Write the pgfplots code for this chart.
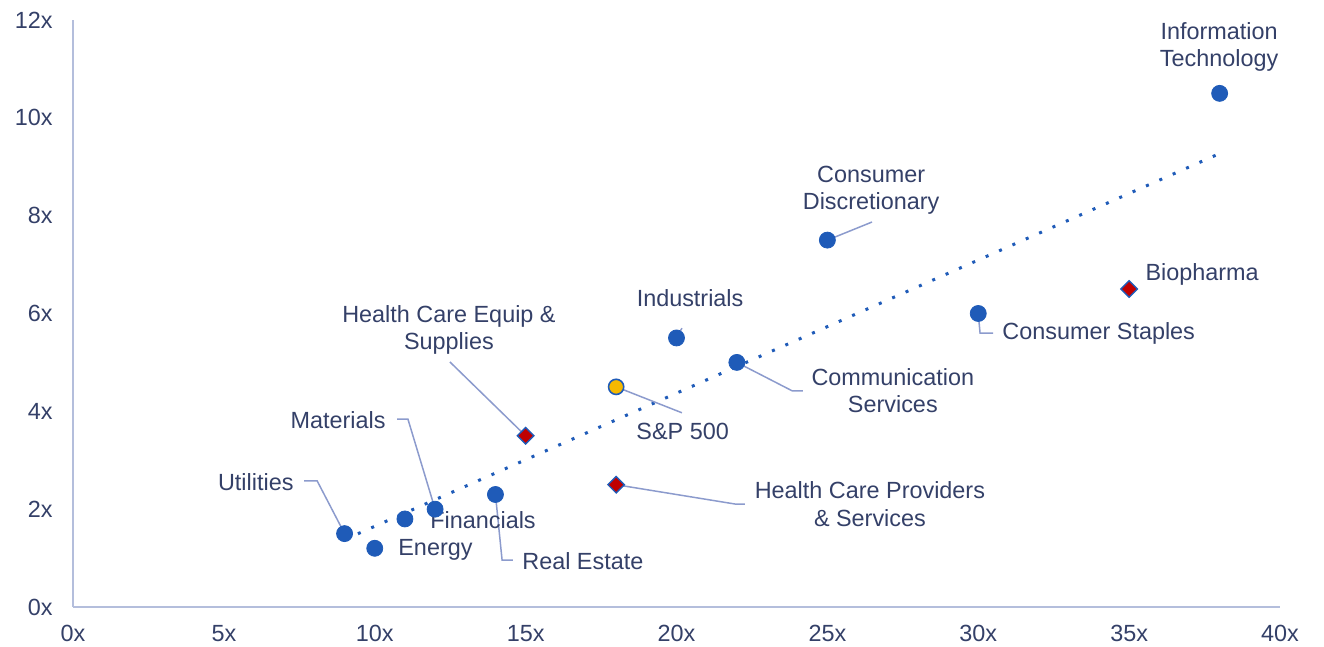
\documentclass[border=0pt]{standalone}
\usepackage{fontspec}
\setmainfont{Liberation Sans}
\usepackage{pgfplots}
\pgfplotsset{compat=1.18}

\definecolor{mkblue}{HTML}{1F5BB8}
\definecolor{leadcol}{HTML}{8C9BCD}
\definecolor{axiscol}{HTML}{B4BEDC}
\definecolor{txtcol}{HTML}{344068}
\definecolor{spyel}{HTML}{F5B900}
\definecolor{hcred}{HTML}{C00000}

\newcommand{\lblfont}{\fontsize{11.7}{13.8}\selectfont}

\begin{document}
\begin{tikzpicture}[
  lab/.style={text=txtcol, inner sep=0pt, align=center, font=\lblfont},
  lead/.style={draw=leadcol, line width=0.75pt},
]
\begin{axis}[
  scale only axis, width=603.5pt, height=293.5pt,
  xmin=0, xmax=40, ymin=0, ymax=12,
  axis x line=bottom, axis y line=left,
  axis line style={draw=axiscol, line width=1pt, -},
  xtick={0,5,...,40}, ytick={0,2,...,12},
  xticklabels={0x,5x,10x,15x,20x,25x,30x,35x,40x},
  yticklabels={0x,2x,4x,6x,8x,10x,12x},
  major tick length=0pt,
  tick label style={text=txtcol, font=\lblfont},
  xticklabel style={yshift=-5.7pt},
  yticklabel style={xshift=-6.7pt},
  clip=false,
]
% trend line
\addplot[mkblue, line width=1.5pt, dash pattern=on 1.5pt off 5.8pt]
  coordinates {(9,1.377) (38,9.27)};

% sectors
\addplot[only marks, mark=*, mark size=4pt, mark options={draw=mkblue, fill=mkblue}]
  coordinates {(9,1.5) (10,1.2) (11,1.8) (12,2.0) (14,2.3) (20,5.5) (22,5.0) (25,7.5) (30,6.0) (38,10.5)};
% S&P 500
\addplot[only marks, mark=*, mark size=3.8pt, mark options={draw=mkblue, fill=spyel, line width=0.8pt}]
  coordinates {(18,4.5)};
% health care sub-sectors
\addplot[only marks, mark=square*, mark size=2.9pt, mark options={rotate=45, draw=mkblue, fill=hcred, line width=0.7pt}]
  coordinates {(15,3.5) (18,2.5) (35,6.5)};

% leader lines
\draw[lead] (axis cs:7.66,2.58) -- (axis cs:8.09,2.58) -- (axis cs:9,1.5);
\draw[lead] (axis cs:10.74,3.84) -- (axis cs:11.10,3.84) -- (axis cs:12,2.0);
\draw[lead] (axis cs:14,2.3) -- (axis cs:14.22,0.96) -- (axis cs:14.58,0.96);
\draw[lead] (axis cs:12.49,5.01) -- (axis cs:15,3.5);
\draw[lead] (axis cs:18,4.5) -- (axis cs:20.18,3.97);
\draw[lead] (axis cs:20,5.5) -- (axis cs:20.18,5.70);
\draw[lead] (axis cs:22,5.0) -- (axis cs:23.83,4.42) -- (axis cs:24.19,4.42);
\draw[lead] (axis cs:18,2.5) -- (axis cs:21.94,2.105) -- (axis cs:22.27,2.105);
\draw[lead] (axis cs:25,7.5) -- (axis cs:26.48,7.87);
\draw[lead] (axis cs:30,6.0) -- (axis cs:30.06,5.60) -- (axis cs:30.49,5.60);

% labels
\node[lab, anchor=east] at (axis cs:7.32,2.555) {Utilities};
\node[lab, anchor=east] at (axis cs:10.37,3.82) {Materials};
\node[lab, anchor=west] at (axis cs:11.83,1.78) {Financials};
\node[lab, anchor=west] at (axis cs:10.77,1.165) {Energy};
\node[lab, anchor=west] at (axis cs:14.88,0.94) {Real Estate};
\node[lab] at (axis cs:12.46,5.66) {Health Care Equip \&\\Supplies};
\node[lab, anchor=west] at (axis cs:18.66,3.58) {S\&P 500};
\node[lab] at (axis cs:20.45,6.32) {Industrials};
\node[lab] at (axis cs:27.17,4.42) {Communication\\Services};
\node[lab] at (axis cs:26.41,2.105) {Health Care Providers\\\& Services};
\node[lab] at (axis cs:26.45,8.52) {Consumer\\Discretionary};
\node[lab, anchor=west] at (axis cs:30.79,5.60) {Consumer Staples};
\node[lab, anchor=west] at (axis cs:35.53,6.79) {Biopharma};
\node[lab] at (axis cs:37.98,11.45) {Information\\Technology};
\end{axis}
\pgfresetboundingbox
\path[use as bounding box] (current axis.south west) ++(-36.5pt,-20pt) rectangle ++(662pt,323.5pt);
\end{tikzpicture}
\end{document}
